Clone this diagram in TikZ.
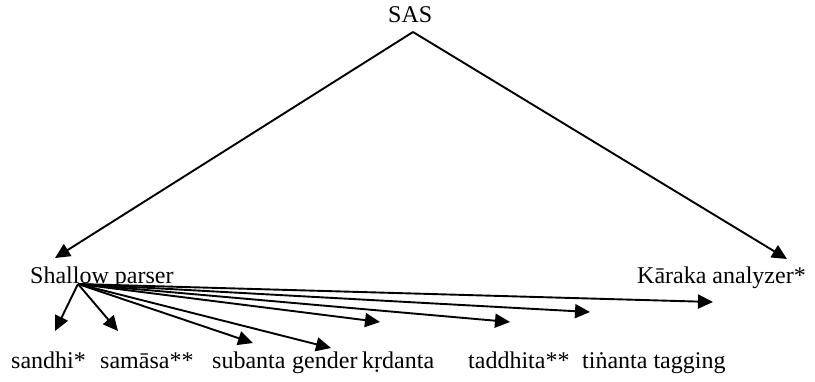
\documentclass[tikz,border=0pt]{standalone}
\usepackage{fontspec}
\setmainfont{Liberation Serif}
\usetikzlibrary{arrows.meta}
\begin{document}
\begin{tikzpicture}[x=1pt,y=-1pt,
  lbl/.style={anchor=base west,inner sep=0pt,font=\fontsize{24}{28}\selectfont},
  arr/.style={line width=1.9pt,-{Triangle[length=15pt,width=14pt]}}]
\useasboundingbox (0,0) rectangle (815,381);
\node[lbl] (sas) at (388,22) {SAS};
\coordinate (apex) at (413,32);
\node[lbl] (sp) at (30,283) {Shallow parser};
\node[lbl] (ka) at (637,283) {Kāraka analyzer*};
\coordinate (spin) at (55,258);
\coordinate (kain) at (787,259);
\draw[arr] (apex) -- (spin);
\draw[arr] (apex) -- (kain);
\coordinate (fan) at (78,284);
\node[lbl] (sandhi) at (11,368) {sandhi*};
\node[lbl] (samasa) at (100,368) {samāsa**};
\node[lbl] (subanta) at (212,368) {subanta};
\node[lbl] (gender) at (292,368) {gender};
\node[lbl] (krdanta) at (362,368) {kṛdanta};
\node[lbl] (taddhita) at (468,368) {taddhita**};
\node[lbl] (tinanta) at (582,368) {tiṅanta tagging};
\coordinate (t1) at (55,331);
\coordinate (t2) at (118,331);
\coordinate (t3) at (253,343);
\coordinate (t4) at (331,348);
\coordinate (t5) at (380,322);
\coordinate (t6) at (510,322);
\coordinate (t7) at (590,312);
\coordinate (t8) at (713,302);
\foreach \t in {t1,t2,t3,t4,t5,t6,t7,t8} \draw[arr] (fan) -- (\t);
\end{tikzpicture}
\end{document}
